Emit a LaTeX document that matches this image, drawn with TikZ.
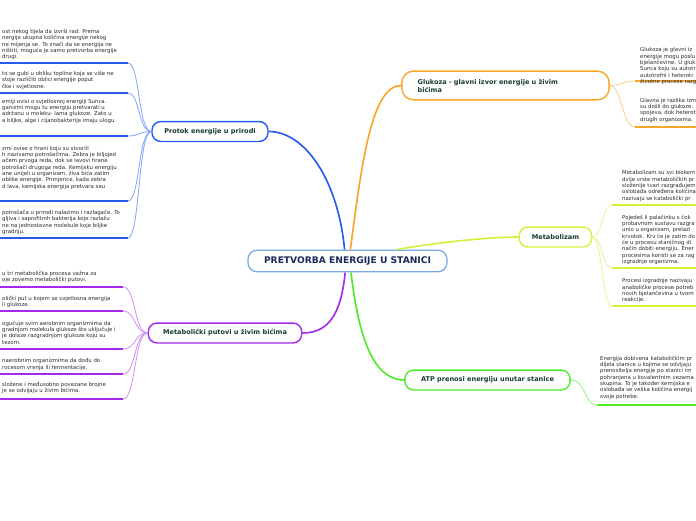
\documentclass[tikz,border=0pt]{standalone}
\usepackage{fontspec}
\setmainfont{DejaVu Sans}
\usepackage{xcolor}
\usepackage{tikz}
\usetikzlibrary{arrows.meta,positioning,calc}
\definecolor{ink}{RGB}{45,45,45}
\definecolor{navy}{RGB}{27,42,92}
\definecolor{pine}{RGB}{24,60,50}
\definecolor{rootline}{RGB}{120,170,225}
\definecolor{flowblue}{RGB}{40,90,240}
\definecolor{flowpale}{RGB}{135,165,250}
\definecolor{sugar}{RGB}{250,165,40}
\definecolor{sugarpale}{RGB}{252,208,145}
\definecolor{lime}{RGB}{212,242,60}
\definecolor{limepale}{RGB}{230,248,150}
\definecolor{grape}{RGB}{165,40,235}
\definecolor{grapepale}{RGB}{208,145,250}
\definecolor{sprout}{RGB}{80,235,40}
\definecolor{sproutpale}{RGB}{150,245,120}
\tikzset{
  root/.style={draw=rootline,line width=1.1pt,fill=white,rounded corners=8pt,
    minimum width=170pt,minimum height=18.5pt,inner sep=0pt,
    font=\fontsize{7.8}{9}\selectfont\bfseries,text=navy},
  branch/.style={draw=#1,line width=1.2pt,fill=white,rounded corners=7.5pt,
    minimum height=17pt,inner sep=0pt,
    font=\fontsize{5.6}{6.9}\selectfont\bfseries,text=pine},
  trunk/.style={line width=1.4pt,#1},
  twig/.style={line width=0.7pt,#1},
  rule/.style={line width=1.7pt,#1},
  leaf/.style={inner sep=0pt,align=left,text=ink,anchor=north west,
    font=\fontsize{4.6}{5.4}\selectfont}
}

\begin{document}
\begin{tikzpicture}[x=0.03cm,y=-0.03cm]
  \useasboundingbox (0,0) rectangle (696,520);
  \fill[white] (0,0) rectangle (696,520);
  \clip (0,0) rectangle (696,520);
  \node[root] (core) at (347.5,261) {PRETVORBA ENERGIJE U STANICI};
  \node[branch=flowblue,minimum width=99pt] (flow) at (210,131.5) {Protok energije u prirodi};
  \node[branch=grape,minimum width=131pt] (paths) at (225,333) {Metabolički putovi u živim bićima};
  \node[branch=sugar,minimum width=177pt,minimum height=24.5pt,rounded corners=10pt,
    text width=150pt,align=left] (glucose) at (505.5,85.5) {Glukoza - glavni izvor energije u živim\\bićima};
  \node[branch=lime,minimum width=62pt] (meta) at (555.5,237) {Metabolizam};
  \node[branch=sprout,minimum width=141pt] (atp) at (487.5,380) {ATP prenosi energiju unutar stanice};
  \draw[trunk=flowblue] ([xshift=-2.5pt]core.north) .. controls (338,180) and (305,131.5) .. (flow.east);
  \draw[trunk=sugar] ([xshift=2.5pt]core.north) .. controls (362,160) and (372,85.5) .. (glucose.west);
  \draw[trunk=lime] ([xshift=42pt]core.north) .. controls (440,242) and (490,237) .. (meta.west);
  \draw[trunk=grape] ([xshift=-2pt]core.south) .. controls (341,315) and (328,333) .. (paths.east);
  \draw[trunk=sprout] ([xshift=3pt]core.south) .. controls (360,350) and (378,380) .. (atp.west);
  \foreach \n/\y in {b1/63,b2/93,b3/136,b4/201,b5/238}{
    \coordinate (\n) at (128,\y);
    \coordinate (\n-end) at (0,\y);
    \draw[twig=flowpale] (flow.west) .. controls (138,131.5) and (140,\y) .. (\n);
    \draw[rule=flowblue] (\n) -- (\n-end);
  }
  \foreach \n/\y in {p1/287,p2/311,p3/349,p4/374,p5/399}{
    \coordinate (\n) at (123,\y);
    \coordinate (\n-end) at (0,\y);
    \draw[twig=grapepale] (paths.west) .. controls (134,333) and (136,\y) .. (\n);
    \draw[rule=grape] (\n) -- (\n-end);
  }
  \foreach \n/\y in {o1/81,o2/127}{
    \coordinate (\n) at (635,\y);
    \coordinate (\n-end) at (696,\y);
    \draw[twig=sugarpale] (glucose.east) .. controls (622,85.5) and (622,\y) .. (\n);
    \draw[rule=sugar] (\n) -- (\n-end);
  }
  \foreach \n/\y in {y1/205,y2/268,y3/306}{
    \coordinate (\n) at (612,\y);
    \coordinate (\n-end) at (696,\y);
    \draw[twig=limepale] (meta.east) .. controls (602,237) and (602,\y) .. (\n);
    \draw[rule=lime] (\n) -- (\n-end);
  }
  \coordinate (g1) at (597,405);
  \coordinate (g1-end) at (696,405);
  \draw[twig=sproutpale] (atp.east) .. controls (586,380) and (584,405) .. (g1);
  \draw[rule=sprout] (g1) -- (g1-end);
  \node[leaf] (b1t) at (2,29) {ost nekog tijela da izvrši rad. Prema\\nergije ukupna količina energije nekog\\ne mijenja se. To znači da se energija ne\\ništiti, moguća je samo pretvorba energije\\drugi.};
  \node[leaf] (b2t) at (2,71) {to se gubi u obliku topline koja se više ne\\stoje različiti oblici energije poput\\čke i svjetlosne.};
  \node[leaf] (b3t) at (2,99) {emiji ovisi o svjetlosnoj energiji Sunca.\\ganizmi mogu tu energiju pretvarati u\\adržanu u moleku- lama glukoze. Zato u\\a biljke, alge i cijanobakterije imaju ulogu};
  \node[leaf] (b4t) at (2,146) {zmi ovise o hrani koju su stvorili\\h nazivamo potrošačima. Zebra je biljojed\\ačem prvoga reda, dok se lavovi hrane\\potrošači drugoga reda. Kemijsku energiju\\ane unijeli u organizam, živa bića zatim\\oblike energije. Primjerice, kada zebra\\d lava, kemijska energija pretvara seu};
  \node[leaf] (b5t) at (2,210) {potrošača u prirodi nalazimo i razlagače. To\\gljiva i saprofitnih bakterija koje razlažu\\ne na jednostavne molekule koje biljke\\gradnju.};
  \node[leaf] (p1t) at (2,271) {u tri metabolička procesa važna za\\oje zovemo metabolički putovi.};
  \node[leaf] (p2t) at (2,295.5) {olički put u kojem se svjetlosna energija\\li glukoze.};
  \node[leaf] (p3t) at (2,320.5) {ogućuje svim aerobnim organizmima da\\gradnjom molekula glukoze što uključuje i\\je dolaze razgradnjom glukoze koju su\\tezom.};
  \node[leaf] (p4t) at (2,358.5) {naerobnim organizmima da dođu do\\rocesom vrenja ili fermentacije.};
  \node[leaf] (p5t) at (2,382) {složene i međusobno povezane brojne\\je se odvijaju u živim bićima.};
  \node[leaf] (o1t) at (640,47.5) {Glukoza je glavni iz\\energije mogu poslu\\bjelančevine. U gluk\\Sunca koju su autotr\\autotrofni i heterotr\\životne procese razg};
  \node[leaf] (o2t) at (640,98) {Glavna je razlika izm\\su došli do glukoze.\\spojeva, dok heterot\\drugih organizama.};
  \node[leaf] (y1t) at (622,170.5) {Metabolizam su svi biokem\\dvije vrste metaboličkih pr\\složenije tvari razgrađujem\\oslobađa određena količina\\nazivaju se katabolički pr};
  \node[leaf] (y2t) at (622,214.5) {Pojedeš li palačinku s čok\\probavnom sustavu razgra\\unio u organizam, prelazi\\krvotok. Krv će je zatim do\\će u procesu staničnog di\\način dobiti energiju. Ener\\procesima koristi se za rag\\izgradnje organizma.};
  \node[leaf] (y3t) at (622,278.5) {Procesi izgradnje nazivaju\\anaboličke procese potreb\\novih bjelančevina u tvorn\\reakcije.};
  \node[leaf] (g1t) at (600,355.5) {Energija dobivena kataboličkim pr\\dijela stanice u kojima se odvijaju\\prenositelja energije po stanici im\\pohranjena u kovalentnim vezama\\skupina. To je također kemijska e\\oslobađa se velika količina energij\\svoje potrebe.};
\end{tikzpicture}
\end{document}
